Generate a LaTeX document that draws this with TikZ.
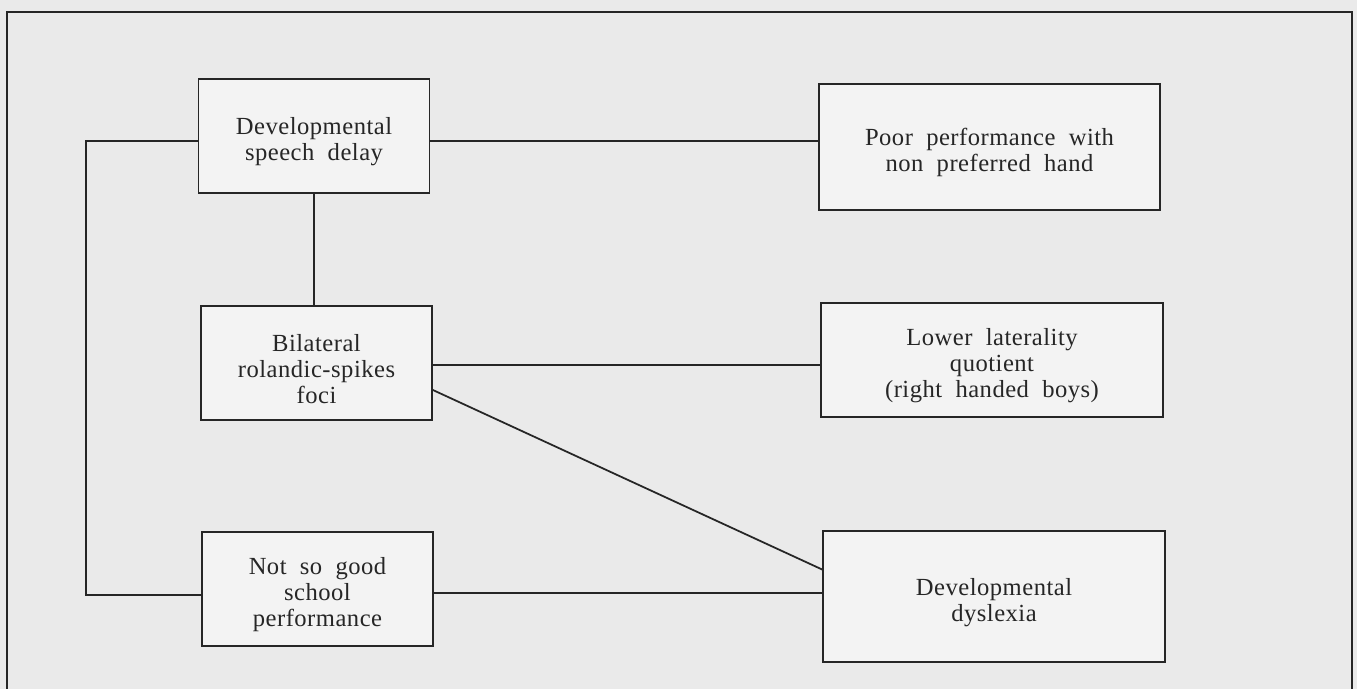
\documentclass[tikz,border=0pt]{standalone}
\usepackage{tikz}
\usepackage{fontspec}
\setmainfont[LetterSpace=2.0]{Liberation Serif}

\definecolor{paper}{HTML}{EAEAEA}
\definecolor{boxfill}{HTML}{F3F3F3}
\definecolor{ink}{HTML}{262626}

\newcommand{\topgap}{\rule{0pt}{16.6pt}}

\tikzset{
    factor box/.style={
        draw=ink,line width=1pt,
        fill=boxfill,
        minimum width=4.62cm,minimum height=2.28cm,
        align=center,text=ink,
        font=\fontsize{14}{14.8}\selectfont
    },
    link/.style={draw=ink,line width=1pt}
}

\begin{document}
\begin{tikzpicture}
        \fill[paper] (0,0) rectangle (27.14,-13.78);
        \useasboundingbox (0,0) rectangle (27.14,-13.78);
        \draw[link] (0.14,-13.78) -- (0.14,-0.24) -- (27.04,-0.24) -- (27.04,-13.78);
        % left column
        \node[factor box] (speech) at (6.28,-2.72) {\topgap Developmental\\speech\ \ delay};
        \node[factor box] (foci) at (6.33,-7.26) {\topgap Bilateral\\rolandic-spikes\\foci};
        \node[factor box] (school) at (6.35,-11.78) {\topgap Not\ \ so\ \ good\\school\\performance};
        % right column
        \node[factor box,minimum width=6.82cm,minimum height=2.52cm] (hand) at (19.79,-2.94) {\topgap Poor\ \ performance\ \ with\\non\ \ preferred\ \ hand};
        \node[factor box,minimum width=6.84cm] (lateral) at (19.84,-7.2) {\topgap Lower\ \ laterality\\quotient\\(right\ \ handed\ \ boys)};
        \node[factor box,minimum width=6.84cm,minimum height=2.62cm] (dyslexia) at (19.88,-11.93) {\topgap Developmental\\dyslexia};
        \coordinate (loop) at (1.72,0);
        \draw[link] ([yshift=-.1cm]speech.east) -- ([yshift=-.1cm]speech.east -| hand.west);
        \draw[link] (speech.south) -- (speech.south |- foci.north);
        \draw[link] ([yshift=-.1cm]speech.west) -- ([yshift=-.1cm]speech.west -| loop) |- ([yshift=-.12cm]school.west);
        \draw[link] ([yshift=-.04cm]foci.east) -- ([yshift=-.04cm]foci.east -| lateral.west);
        \draw[link] ([yshift=-.54cm]foci.east) -- ([yshift=.54cm]dyslexia.west);
        \draw[link] ([yshift=-.08cm]school.east) -- ([yshift=-.08cm]school.east -| dyslexia.west);
    \end{tikzpicture}
\end{document}
